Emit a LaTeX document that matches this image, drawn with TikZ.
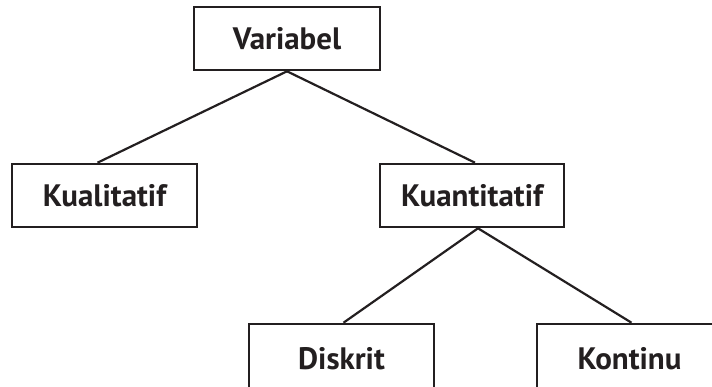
\documentclass[tikz,border=0pt]{standalone}
\usepackage{fontspec}
\setmainfont{PT Sans}
\definecolor{ink}{HTML}{231F20}
\begin{document}
\begin{tikzpicture}[x=1pt,y=1pt,
  box/.style={draw=ink, line width=2.6pt, fill=white, minimum width=185pt, minimum height=63pt, inner sep=0pt,
    text=ink, font=\fontsize{31}{36}\selectfont\bfseries, anchor=center},
  link/.style={draw=ink, line width=2.2pt}]
\useasboundingbox (0,0) rectangle (712,386);
\node[box, minimum width=186pt] (var) at (287,347.5) {Variabel};
\node[box] (kual) at (104.5,190.5) {Kualitatif};
\node[box, minimum width=184pt] (kuan) at (472,190.5) {Kuantitatif};
\node[box, minimum height=70pt] (disk) at (341.5,27) {Diskrit};
\node[box, minimum height=70pt] (kont) at (629.5,27) {Kontinu};
\draw[link] (var.south) -- ([xshift=-7pt]kual.north);
\draw[link] (var.south) -- ([xshift=3pt]kuan.north);
\draw[link] ([xshift=6pt]kuan.south) -- ([xshift=2pt]disk.north);
\draw[link] ([xshift=6pt]kuan.south) -- ([xshift=2pt]kont.north);
\end{tikzpicture}
\end{document}
